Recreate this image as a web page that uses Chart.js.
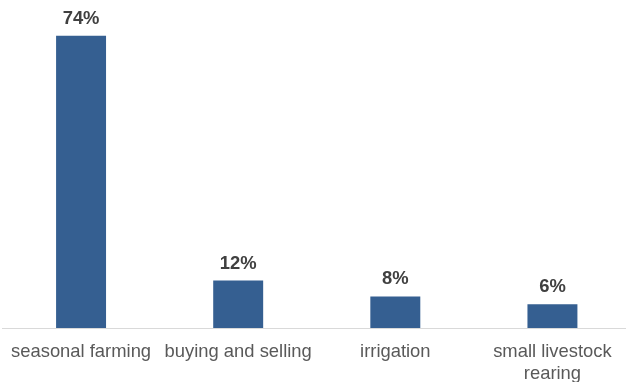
<!DOCTYPE html>
<html>
<head>
<meta charset="utf-8">
<script src="https://cdn.jsdelivr.net/npm/chart.js@4/dist/chart.umd.min.js"></script>
<style>
html,body{margin:0;padding:0;background:#fff;overflow:hidden;}
#wrap{width:626px;height:382px;overflow:hidden;}
</style>
</head>
<body>
<div id="wrap"><canvas id="c" width="631" height="382"></canvas></div>
<script>
const categories = [["seasonal farming"], ["buying and selling"], ["irrigation"], ["small livestock", "rearing"]];
const values = [74, 12, 8, 6];
const valueLabels = ["74%", "12%", "8%", "6%"];

const labelPlugin = {
  id: 'valueLabels',
  afterDatasetsDraw(chart) {
    const ctx = chart.ctx;
    const meta = chart.getDatasetMeta(0);
    ctx.save();
    ctx.font = 'bold 18.4px "Liberation Sans", Arial, sans-serif';
    ctx.fillStyle = '#404040';
    ctx.textAlign = 'center';
    ctx.textBaseline = 'alphabetic';
    meta.data.forEach((bar, i) => {
      ctx.fillText(valueLabels[i], bar.x, bar.y - 12);
    });
    ctx.restore();
  }
};

new Chart(document.getElementById('c'), {
  type: 'bar',
  data: {
    labels: categories,
    datasets: [{
      data: values,
      backgroundColor: '#355F91',
      borderWidth: 0,
      barPercentage: 1,
      categoryPercentage: 0.318
    }]
  },
  options: {
    responsive: false,
    animation: false,
    layout: { padding: { left: 2.5, right: 0, top: 12, bottom: 0 } },
    plugins: { legend: { display: false }, tooltip: { enabled: false } },
    scales: {
      x: {
        grid: { display: false, drawTicks: false },
        border: { display: true, color: '#D9D9D9', width: 1 },
        afterFit(scale) { scale.height = 54; scale.paddingLeft = 0; scale.paddingRight = 0; },
        ticks: {
          color: '#595959',
          font: { family: '"Liberation Sans", Arial, sans-serif', size: 18.4 },
          padding: 13,
          maxRotation: 0,
          autoSkip: false
        }
      },
      y: {
        display: false,
        min: 0,
        max: 80
      }
    }
  },
  plugins: [labelPlugin]
});
</script>
</body>
</html>
